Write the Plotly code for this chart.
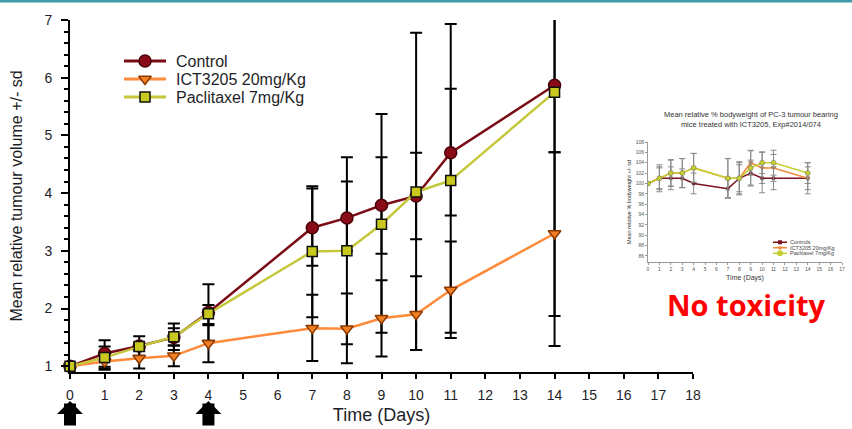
import plotly.graph_objects as go

# ---------------- data (main chart) ----------------
days = [0, 1, 2, 3, 4, 7, 8, 9, 10, 11, 14]
series_names = ["Control", "ICT3205 20mg/Kg", "Paclitaxel 7mg/Kg"]
control = [1.00, 1.22, 1.35, 1.50, 1.93, 3.40, 3.57, 3.79, 3.95, 4.70, 5.87]
ict = [1.00, 1.08, 1.14, 1.18, 1.40, 1.66, 1.65, 1.83, 1.90, 2.32, 3.30]
pacli = [1.00, 1.15, 1.34, 1.51, 1.91, 2.99, 3.00, 3.46, 4.02, 4.22, 5.75]

control_hi = [1.00, 1.45, 1.52, 1.74, 2.42, 4.12, 4.62, 5.37, 6.78, 6.93, 7.30]
control_lo = [1.00, 0.99, 1.18, 1.28, 1.44, 2.74, 1.38, 2.95, 1.28, 1.49, 4.71]
ict_hi = [1.00, 1.22, 1.32, 1.36, 1.73, 2.24, 2.26, 2.49, 2.56, 3.16, 4.71]
ict_lo = [1.00, 0.94, 0.96, 1.00, 1.07, 1.09, 1.05, 1.58, 1.28, 1.58, 1.35]
pacli_hi = [1.00, 1.34, 1.41, 1.66, 2.06, 4.08, 4.20, 4.62, 4.70, 5.81, 7.50]
pacli_lo = [1.00, 0.96, 1.27, 1.36, 1.71, 1.85, 3.00, 1.17, 3.20, 3.61, 1.87]

dose_days = [0, 4]
x_ticks = list(range(0, 19))
y_ticks = [1, 2, 3, 4, 5, 6, 7]

# ---------------- data (inset bodyweight chart) ----------------
bw_names = ["Controls", "ICT3205 20mg/Kg", "Paclitaxel 7mg/Kg"]
bw_control = [100, 101, 101, 101, 100, 99, 101, 102, 101, 101, 101]
bw_ict = [100, 101, 102, 102, 103, 101, 101, 104, 103, 103, 101]
bw_pacli = [100, 101, 102, 102, 103, 101, 101, 103, 104, 104, 102]
bw_control_sd = [0, 2.2, 2.2, 1.8, 2.0, 1.8, 2.6, 2.5, 2.8, 2.2, 2.2]
bw_ict_sd = [0, 2.0, 2.5, 2.8, 2.8, 3.8, 3.0, 2.4, 3.0, 2.6, 3.0]
bw_pacli_sd = [0, 2.6, 2.6, 2.8, 2.8, 3.8, 3.2, 3.3, 2.1, 2.4, 2.0]
bw_x_ticks = list(range(0, 18))
bw_y_ticks = list(range(86, 110, 2))

FONT = "Liberation Sans, Arial, sans-serif"
TXT = "#1e1e28"

# pixel -> paper helpers (plot area = margins box)
L, R, T, B = 70, 843, 20, 372
def px(x):
    return (x - L) / (R - L)
def py(y):
    return (B - y) / (B - T)

styles = [
    dict(line="#7a0c16", fill="#8a0a18", edge="#4a0008", symbol="circle", size=12),
    dict(line="#ff8a3a", fill="#f28022", edge="#8a3a00", symbol="triangle-down", size=11),
    dict(line="#c4c83a", fill="#c8c81e", edge="#111111", symbol="square", size=10),
]
means = [control, ict, pacli]
his = [control_hi, ict_hi, pacli_hi]
los = [control_lo, ict_lo, pacli_lo]

fig = go.Figure()

# error bars first (under all markers)
for m, hi, lo in zip(means, his, los):
    fig.add_trace(go.Scatter(
        x=days, y=m, mode="markers", marker=dict(size=2, opacity=0),
        error_y=dict(type="data", symmetric=False,
                     array=[h - v for h, v in zip(hi, m)],
                     arrayminus=[v - l for v, l in zip(m, lo)],
                     color="black", thickness=2, width=6),
        cliponaxis=True, hoverinfo="skip", showlegend=False))

for name, m, st in zip(series_names, means, styles):
    fig.add_trace(go.Scatter(
        x=days, y=m, mode="lines+markers", name=name,
        line=dict(color=st["line"], width=2.5),
        marker=dict(symbol=st["symbol"], size=st["size"], color=st["fill"],
                    line=dict(color=st["edge"], width=1.5)),
        cliponaxis=False, showlegend=False))

# manual legend (main) on hidden axes x3/y3
for i, (name, st) in enumerate(zip(series_names, styles)):
    fig.add_trace(go.Scatter(x=[0, 1], y=[i, i], mode="lines", xaxis="x3", yaxis="y3",
                             line=dict(color=st["line"], width=3), hoverinfo="skip",
                             showlegend=False, cliponaxis=False))
    fig.add_trace(go.Scatter(x=[0.5], y=[i], mode="markers", xaxis="x3", yaxis="y3",
                             marker=dict(symbol=st["symbol"], size=st["size"], color=st["fill"],
                                         line=dict(color=st["edge"], width=1.5)),
                             hoverinfo="skip", showlegend=False, cliponaxis=False))
    fig.add_annotation(x=1, y=i, xref="x3", yref="y3", text=name, showarrow=False,
                       xanchor="left", xshift=8, font=dict(family=FONT, size=16, color=TXT))

# ---------------- inset ----------------
bw_styles = [
    dict(color="#7b1020", symbol="square", size=3),
    dict(color="#f08a3c", symbol="triangle-down", size=4),
    dict(color="#c5d030", symbol="circle", size=5),
]
for m, sd, st in zip([bw_control, bw_ict, bw_pacli], [bw_control_sd, bw_ict_sd, bw_pacli_sd], bw_styles):
    fig.add_trace(go.Scatter(
        x=days, y=m, mode="lines+markers", xaxis="x2", yaxis="y2",
        line=dict(color=st["color"], width=1.5),
        marker=dict(symbol=st["symbol"], size=st["size"], color=st["color"],
                    line=dict(color="#666666", width=0.5)),
        error_y=dict(type="data", array=sd, color="#8a8a8a", thickness=1, width=3),
        hoverinfo="skip", showlegend=False))

# inset legend on hidden axes x4/y4
for i, (name, st) in enumerate(zip(bw_names, bw_styles)):
    fig.add_trace(go.Scatter(x=[0, 0.5, 1], y=[i, i, i], mode="lines", xaxis="x4", yaxis="y4",
                             line=dict(color=st["color"], width=1.5), hoverinfo="skip",
                             showlegend=False, cliponaxis=False))
    fig.add_trace(go.Scatter(x=[0.5], y=[i], mode="markers", xaxis="x4", yaxis="y4",
                             marker=dict(symbol=st["symbol"], size=st["size"] + 1, color=st["color"]),
                             hoverinfo="skip", showlegend=False, cliponaxis=False))
    fig.add_annotation(x=1, y=i, xref="x4", yref="y4", text=name, showarrow=False,
                       xanchor="left", xshift=1, font=dict(family=FONT, size=5.5, color="#444"))

# dosing arrows (block arrows pointing up at the dosing days)
for d in dose_days:
    fig.add_annotation(x=d, xref="x", y=py(401), yref="paper", text="",
                       showarrow=True, arrowhead=1, arrowsize=0.36, arrowwidth=12,
                       arrowcolor="black", ax=0, ay=26, standoff=0)

# teal top band
fig.add_shape(type="rect", xref="paper", yref="paper", x0=px(0), x1=px(852),
              y0=py(2.5), y1=py(0), fillcolor="#3e9ba8", line=dict(width=0))

# inset title and "No toxicity"
fig.add_annotation(x=px(751), y=py(119.5), xref="paper", yref="paper", showarrow=False,
                   xanchor="center", yanchor="middle",
                   text="Mean relative % bodyweight of PC-3 tumour bearing<br>mice treated with ICT3205, Exp#2014/074",
                   font=dict(family=FONT, size=7.5, color="#333"))
fig.add_annotation(x=px(746), y=py(304), xref="paper", yref="paper", showarrow=False,
                   xanchor="center", yanchor="middle",
                   text="<b>No toxicity</b>", font=dict(family="Open Sans, sans-serif", size=29, color="#ff0000"))

axis_common = dict(showgrid=False, zeroline=False, showline=True, linecolor="black",
                   linewidth=2, ticks="outside", tickcolor="black", tickwidth=2, automargin=False)
inset_common = dict(showgrid=False, zeroline=False, showline=True, linecolor="#999", linewidth=1,
                    ticks="outside", ticklen=2, tickcolor="#999", automargin=False)

fig.update_layout(
    width=852, height=429,
    margin=dict(l=L, r=852 - R, t=T, b=429 - B, autoexpand=False),
    paper_bgcolor="white", plot_bgcolor="white",
    font=dict(family=FONT, color=TXT),
    xaxis=dict(domain=[0, px(693)], range=[0, 18], tickvals=x_ticks, ticklen=5,
               tickfont=dict(size=14, color=TXT), ticklabelstandoff=4,
               title=dict(text="Time (Days)", font=dict(size=18, color=TXT), standoff=7),
               anchor="y", **axis_common),
    yaxis=dict(domain=[0, 1], range=[0.9, 7], tickvals=y_ticks, ticklen=7,
               minor=dict(dtick=0.2, tick0=0, ticklen=4, tickcolor="black", tickwidth=2, ticks="outside"),
               tickfont=dict(size=14, color=TXT), ticklabelstandoff=6,
               title=dict(text="Mean relative tumour volume +/- sd", font=dict(size=16, color=TXT), standoff=18),
               anchor="x", **axis_common),
    xaxis2=dict(domain=[px(648), px(842)], range=[0, 17], tickvals=bw_x_ticks, anchor="y2",
                tickfont=dict(size=5, color="#555"),
                title=dict(text="Time (Days)", font=dict(size=7, color="#333"), standoff=4),
                **inset_common),
    yaxis2=dict(domain=[py(262), py(142)], range=[84.84, 108], tickvals=bw_y_ticks, anchor="x2",
                tickfont=dict(size=5, color="#555"),
                title=dict(text="Mean relative % bodyweight +/- sd", font=dict(size=5.5, color="#333"), standoff=3),
                **inset_common),
    xaxis3=dict(domain=[px(124), px(166)], range=[0, 1], visible=False, anchor="y3", fixedrange=True),
    yaxis3=dict(domain=[py(106), py(52)], range=[2.5, -0.5], visible=False, anchor="x3", fixedrange=True),
    xaxis4=dict(domain=[px(773), px(787)], range=[0, 1], visible=False, anchor="y4", fixedrange=True),
    yaxis4=dict(domain=[py(256), py(239.5)], range=[2.5, -0.5], visible=False, anchor="x4", fixedrange=True),
    showlegend=False,
)

fig.write_html("out.html", config={"displayModeBar": False},
               post_script="document.body.style.margin='0px';")
